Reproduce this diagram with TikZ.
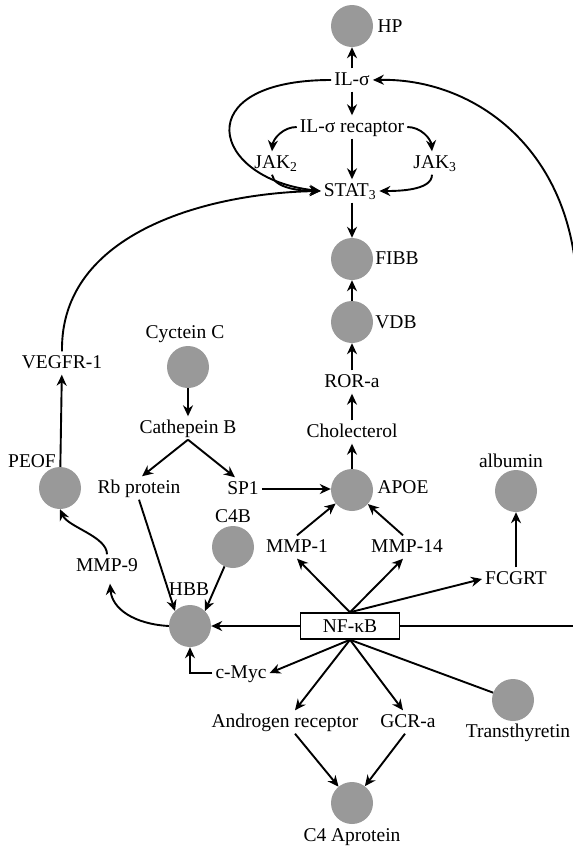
\documentclass[tikz,border=0pt]{standalone}
\usepackage{fontspec}
\setmainfont{Liberation Serif}
\usetikzlibrary{arrows.meta}
\definecolor{dotgray}{RGB}{153,153,153}

\begin{document}
\begin{tikzpicture}[x=1pt, y=-1pt, >={Stealth[length=11pt,width=10pt]},
    every node/.style={font=\fontsize{19.5}{22}\selectfont}]
    \tikzstyle protein dot=[circle,fill=dotgray,minimum size=42pt,inner sep=0pt]
    \tikzstyle gene=[inner sep=3pt,text height=14pt,text depth=3pt]
    \tikzstyle flow=[->,line width=1.9pt]
    \tikzstyle plain flow=[line width=1.9pt]

    \useasboundingbox (0,0) rectangle (573,849);

    % grey circles
    \node[protein dot] (hp) at (352,26) {};
    \node[protein dot] (fibb) at (352,259) {};
    \node[protein dot] (vdb) at (352,322) {};
    \node[protein dot] (apoe) at (352,490) {};
    \node[protein dot] (alb) at (516,491) {};
    \node[protein dot] (cys) at (188,367) {};
    \node[protein dot] (peof) at (60,488) {};
    \node[protein dot] (c4b) at (233,547) {};
    \node[protein dot] (hbb) at (190,626) {};
    \node[protein dot] (tth) at (513,700) {};
    \node[protein dot] (c4a) at (352,803) {};

    % circle labels
    \node[gene] (hp label) at (390,27) {HP};
    \node[gene] (fibb label) at (397,259) {FIBB};
    \node[gene] (vdb label) at (396,323) {VDB};
    \node[gene] (apoe label) at (403,488) {APOE};
    \node[gene] (alb label) at (511,462) {albumin};
    \node[gene] (cys label) at (185,333) {Cyctein C};
    \node[gene] (peof label) at (32,462) {PEOF};
    \node[gene] (c4b label) at (233,517) {C4B};
    \node[gene] (hbb label) at (189,590) {HBB};
    \node[gene] (tth label) at (518,732) {Transthyretin};
    \node[gene] (c4a label) at (352,836) {C4 Aprotein};

    % text nodes
    \node[gene] (il) at (352,80) {IL-σ};
    \node[gene] (rec) at (352,127) {IL-σ recaptor};
    \node[gene] (jak2) at (276,163) {JAK\textsubscript{2}};
    \node[gene] (jak3) at (435,163) {JAK\textsubscript{3}};
    \node[gene] (stat) at (350,191) {STAT\textsubscript{3}};
    \node[gene] (ror) at (352,382) {ROR-a};
    \node[gene] (chol) at (352,432) {Cholecterol};
    \node[gene] (veg) at (62,363) {VEGFR-1};
    \node[gene] (cat) at (188,428) {Cathepein B};
    \node[gene] (rb) at (139,488) {Rb protein};
    \node[gene] (sp1) at (243,489) {SP1};
    \node[gene] (mmp9) at (107,566) {MMP-9};
    \node[gene] (mmp1) at (297,547) {MMP-1};
    \node[gene] (mmp14) at (407,547) {MMP-14};
    \node[gene] (fcgrt) at (516,579) {FCGRT};
    \node[draw,line width=1.5pt,minimum width=99pt,minimum height=26pt,inner sep=0pt] (nf) at (350,626) {NF-κB};
    \node[gene] (cmyc) at (241,673) {c-Myc};
    \node[gene] (andr) at (285,722) {Androgen receptor};
    \node[gene] (gcr) at (408,722) {GCR-a};

    % IL-sigma block
    \draw[flow] (il) -- (hp);
    \draw[flow] (il) -- (rec);
    \draw[flow] (rec.south) -- (rec.south |- stat.north);
    \draw[flow] (rec.west) .. controls +(-14,0) and +(1,-12) .. ([xshift=-4pt]jak2.north);
    \draw[flow] (rec.east) .. controls +(14,0) and +(-1,-12) .. ([xshift=-3pt]jak3.north);
    \draw[flow] ([xshift=-4pt]jak2.south) .. controls +(2,14) and +(-18,0) .. (stat.west);
    \draw[flow] ([xshift=-3pt]jak3.south) .. controls +(0,16) and +(18,0) .. (stat.east);
    \draw[flow] (il.west) .. controls +(-145,0) and +(-110,-12) .. (stat.west);
    \draw[flow] (veg.north) .. controls +(-2,-120) and +(-110,2) .. (stat.west);
    \draw[flow] (stat.south -| fibb) -- (fibb);

    % central column
    \draw[flow] (vdb) -- (fibb);
    \draw[flow] (ror) -- (vdb);
    \draw[flow] (chol) -- (ror);
    \draw[flow] (apoe) -- (chol);

    % feedback running off the right edge
    \coordinate (right edge low) at (580,626);
    \coordinate (right edge high) at (575,262);
    \draw[plain flow] (nf.east) -- (right edge low);
    \draw[flow] (right edge high) .. controls +(-15,-122) and +(95,-2) .. (il.east);

    % left side
    \draw[flow] (peof) -- (veg);
    \draw[flow] (mmp9.north) .. controls +(0,-18) and +(8,18) .. (peof.south);
    \draw[flow] (hbb.west) .. controls +(-35,-2) and +(2,25) .. ([xshift=3pt,yshift=-6pt]mmp9.south);
    \draw[flow] (cys) -- (cat);
    \draw[flow] (cat.south) -- ([xshift=3pt]rb.north);
    \draw[flow] (cat.south) -- ([xshift=-8pt]sp1.north);
    \draw[flow] (sp1.east) -- (sp1.east -| apoe.west);
    \draw[flow] (rb.south) -- (hbb.north west);
    \draw[flow] (c4b) -- (hbb.north east);
    \draw[flow] (cmyc.west) -| (hbb.south);
    \draw[flow] (mmp1.north) -- (apoe);
    \draw[flow] ([xshift=-4pt]mmp14.north) -- (apoe);
    \draw[flow] (fcgrt) -- (alb);

    % NF-kB rays
    \draw[flow] (nf) -- (hbb);
    \draw[flow] (nf.north) -- (mmp1.south);
    \draw[flow] (nf.north) -- ([xshift=-4pt]mmp14.south);
    \draw[flow] (nf.north) -- (fcgrt.west);
    \draw[flow] (nf.south) -- (cmyc.east);
    \draw[flow] (nf.south) -- ([xshift=10pt]andr.north);
    \draw[flow] (nf.south) -- ([xshift=-5pt]gcr.north);
    \draw[plain flow] (nf.south) -- (tth);
    \draw[flow] ([xshift=10pt]andr.south) -- (c4a);
    \draw[flow] ([xshift=-3pt]gcr.south) -- (c4a);
\end{tikzpicture}
\end{document}
